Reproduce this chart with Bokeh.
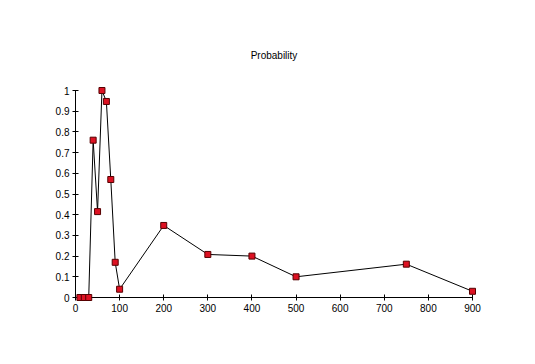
from bokeh.plotting import figure
from bokeh.models import FixedTicker, Range1d, Title
from bokeh.embed import file_html
from bokeh.resources import INLINE

x_values = [10, 20, 30, 40, 50, 60, 70, 80, 90, 100, 200, 300, 400, 500, 750, 900]
probability = [0.0, 0.0, 0.0, 0.76, 0.415, 1.0, 0.947, 0.57, 0.17, 0.04, 0.348, 0.208, 0.2, 0.1, 0.161, 0.03]
x_ticks = [0, 100, 200, 300, 400, 500, 600, 700, 800, 900]
y_ticks = [0, 0.1, 0.2, 0.3, 0.4, 0.5, 0.6, 0.7, 0.8, 0.9, 1]

FONT = "Liberation Sans"

p = figure(width=527, height=356, output_backend="svg", toolbar_location=None,
           x_range=Range1d(0, 900), y_range=Range1d(0, 1),
           min_border_left=75, min_border_right=55, min_border_top=90, min_border_bottom=59)
p.title = None
t = Title(text="Probability", align="center", text_font=FONT, text_font_size="10px",
          text_font_style="normal", text_color="black", standoff=60)
p.add_layout(t, "above")

p.outline_line_color = None
p.xgrid.visible = False
p.ygrid.visible = False
p.background_fill_color = "white"
p.border_fill_color = "white"

for ax in (p.xaxis[0], p.yaxis[0]):
    ax.axis_line_color = "black"
    ax.major_tick_line_color = "black"
    ax.major_tick_in = 3
    ax.major_tick_out = 3
    ax.minor_tick_line_color = None
    ax.major_label_text_font = FONT
    ax.major_label_text_font_size = "10px"
    ax.major_label_text_color = "black"
    ax.major_label_standoff = 3

p.xaxis[0].ticker = FixedTicker(ticks=x_ticks)
p.yaxis[0].ticker = FixedTicker(ticks=y_ticks)
p.yaxis[0].major_label_overrides = {0: "0", 1: "1"}

p.line(x_values, probability, line_color="black", line_width=1, level="overlay")
p.scatter(x_values, probability, marker="square", size=6, fill_color="#dd1122",
          line_color="#550000", line_width=1, level="overlay")

open("out.html", "w").write(file_html(p, INLINE))
